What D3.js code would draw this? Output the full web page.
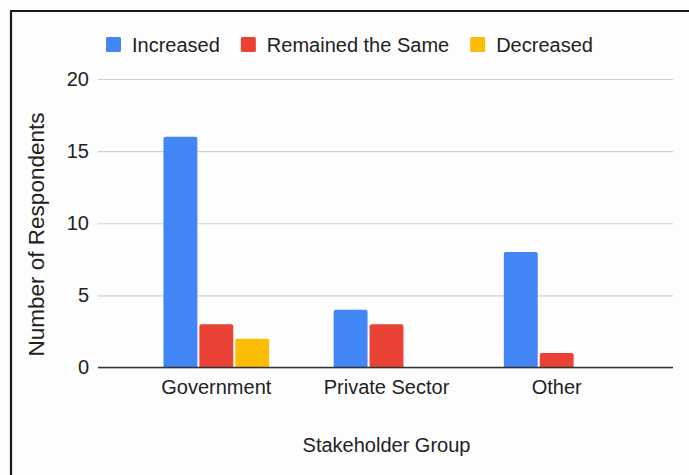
<!DOCTYPE html>
<html>
<head>
<meta charset="utf-8">
<script src="https://cdn.jsdelivr.net/npm/d3@7"></script>
<style>
  html, body { margin: 0; padding: 0; background: #fff; }
  svg { display: block; }
  text { font-family: "Liberation Sans", Arial, sans-serif; fill: #222; }
</style>
</head>
<body>
<script>
// Survey responses by stakeholder group
const categories = ["Government", "Private Sector", "Other"];
const seriesNames = ["Increased", "Remained the Same", "Decreased"];
const increased = [16, 4, 8];
const remainedSame = [3, 3, 1];
const decreased = [2, 0, 0];
const yTicks = [0, 5, 10, 15, 20];
const xTitle = "Stakeholder Group";
const yTitle = "Number of Respondents";

const seriesValues = [increased, remainedSame, decreased];
const colors = ["#4285F4", "#EA4335", "#FBBC04"];

const W = 689, H = 475;
const plot = { left: 98, right: 673, top: 79, bottom: 367.5 };

const svg = d3.select("body").append("svg")
  .attr("width", W).attr("height", H);

svg.append("rect").attr("width", W).attr("height", H).attr("fill", "#fdfdfd");

// frame lines along the top and left edge
svg.append("path")
  .attr("d", `M11,${H} L11,11 L${W},11`)
  .attr("fill", "none").attr("stroke", "#1a1a1a").attr("stroke-width", 2.2);

const y = d3.scaleLinear().domain([0, 20]).range([plot.bottom, plot.top]);

const x = d3.scaleBand().domain(categories)
  .range([plot.left + 2, plot.right]).paddingInner(0.379).paddingOuter(0.373);

const xInner = d3.scaleBand().domain(seriesNames)
  .range([0, x.bandwidth()]).paddingInner(0.056);

// gridlines and tick labels
const yAxis = svg.append("g").attr("transform", `translate(${plot.left},0)`)
  .call(d3.axisLeft(y).tickValues(yTicks).tickSize(-(plot.right - plot.left)).tickPadding(9));
yAxis.select(".domain").remove();
yAxis.selectAll(".tick line").attr("stroke", "#d0d0d0").attr("stroke-width", 1.2);
yAxis.selectAll(".tick text")
  .style("font-size", "20px").attr("fill", "#222")
  .style("font-family", "'Liberation Sans', Arial, sans-serif");

// bars
const groups = svg.append("g").selectAll("g")
  .data(categories).join("g")
  .attr("transform", d => `translate(${x(d)},0)`);

groups.selectAll("path")
  .data((d, i) => seriesNames.map((s, j) => ({ s, v: seriesValues[j][i], c: colors[j] })))
  .join("path")
  .filter(d => d.v > 0)
  .attr("fill", d => d.c)
  .attr("d", d => {
    const x0 = xInner(d.s), w = xInner.bandwidth();
    const y0 = y(d.v), y1 = y(0), r = 2;
    return `M${x0},${y1} L${x0},${y0 + r} Q${x0},${y0} ${x0 + r},${y0} L${x0 + w - r},${y0} Q${x0 + w},${y0} ${x0 + w},${y0 + r} L${x0 + w},${y1} Z`;
  });

// baseline
const xAxis = svg.append("g").attr("transform", `translate(0,${y(0)})`)
  .call(d3.axisBottom(x).tickSize(0).tickPadding(12));
xAxis.select(".domain").attr("d", `M${plot.left},0 H${plot.right}`)
  .attr("stroke", "#333").attr("stroke-width", 1.3);
xAxis.selectAll(".tick text")
  .style("font-size", "20px").attr("fill", "#222")
  .style("font-family", "'Liberation Sans', Arial, sans-serif");

// axis titles
svg.append("text")
  .attr("x", (plot.left + plot.right) / 2 + 1).attr("y", 452)
  .attr("text-anchor", "middle").style("font-size", "20px")
  .text(xTitle);

svg.append("text")
  .attr("transform", "translate(43.5,234.5) rotate(-90)")
  .attr("text-anchor", "middle").style("font-size", "22.5px")
  .text(yTitle);

// legend
const legend = svg.append("g");
let lx = 106;
seriesNames.forEach((s, i) => {
  legend.append("rect")
    .attr("x", lx).attr("y", 37).attr("width", 15).attr("height", 15)
    .attr("rx", 1.5).attr("fill", colors[i]);
  const t = legend.append("text")
    .attr("x", lx + 26).attr("y", 51.5)
    .style("font-size", "20px").text(s);
  lx += 26 + t.node().getComputedTextLength() + 21;
});
</script>
</body>
</html>
